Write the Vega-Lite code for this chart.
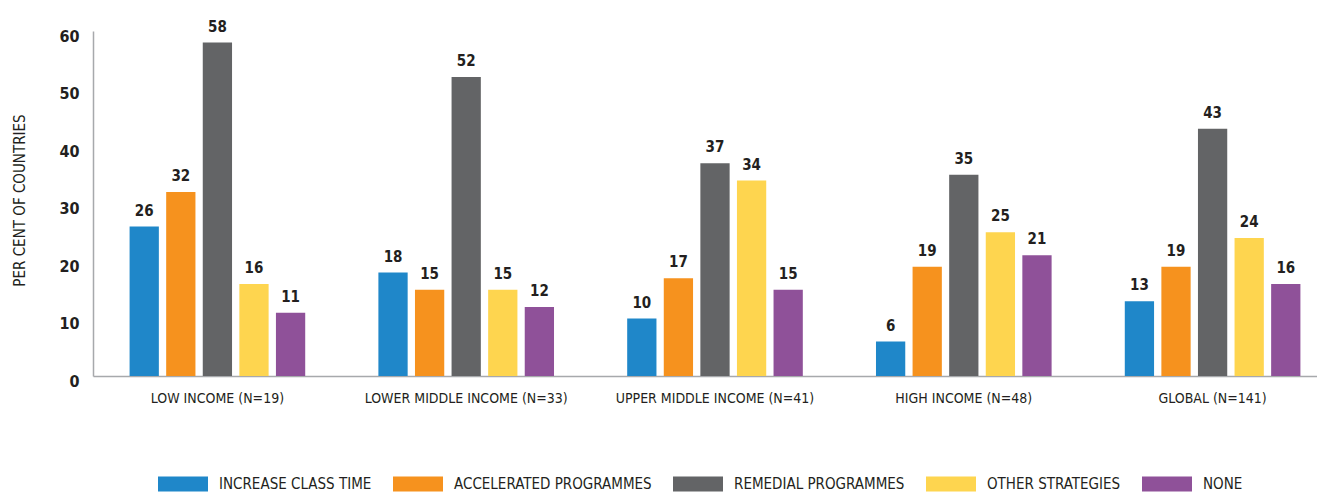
{
  "$schema": "https://vega.github.io/schema/vega-lite/v6.json",
  "width": 1224,
  "height": 345,
  "autosize": "none",
  "padding": {"left": 93, "top": 31, "right": 0, "bottom": 116},
  "background": "white",
  "config": {
    "view": {"stroke": null},
    "font": "DejaVu Sans Condensed"
  },
  "data": {
    "values": [
      {"group": "LOW INCOME (N=19)", "strategy": "INCREASE CLASS TIME", "value": 26},
      {"group": "LOW INCOME (N=19)", "strategy": "ACCELERATED PROGRAMMES", "value": 32},
      {"group": "LOW INCOME (N=19)", "strategy": "REMEDIAL PROGRAMMES", "value": 58},
      {"group": "LOW INCOME (N=19)", "strategy": "OTHER STRATEGIES", "value": 16},
      {"group": "LOW INCOME (N=19)", "strategy": "NONE", "value": 11},
      {"group": "LOWER MIDDLE INCOME (N=33)", "strategy": "INCREASE CLASS TIME", "value": 18},
      {"group": "LOWER MIDDLE INCOME (N=33)", "strategy": "ACCELERATED PROGRAMMES", "value": 15},
      {"group": "LOWER MIDDLE INCOME (N=33)", "strategy": "REMEDIAL PROGRAMMES", "value": 52},
      {"group": "LOWER MIDDLE INCOME (N=33)", "strategy": "OTHER STRATEGIES", "value": 15},
      {"group": "LOWER MIDDLE INCOME (N=33)", "strategy": "NONE", "value": 12},
      {"group": "UPPER MIDDLE INCOME (N=41)", "strategy": "INCREASE CLASS TIME", "value": 10},
      {"group": "UPPER MIDDLE INCOME (N=41)", "strategy": "ACCELERATED PROGRAMMES", "value": 17},
      {"group": "UPPER MIDDLE INCOME (N=41)", "strategy": "REMEDIAL PROGRAMMES", "value": 37},
      {"group": "UPPER MIDDLE INCOME (N=41)", "strategy": "OTHER STRATEGIES", "value": 34},
      {"group": "UPPER MIDDLE INCOME (N=41)", "strategy": "NONE", "value": 15},
      {"group": "HIGH INCOME (N=48)", "strategy": "INCREASE CLASS TIME", "value": 6},
      {"group": "HIGH INCOME (N=48)", "strategy": "ACCELERATED PROGRAMMES", "value": 19},
      {"group": "HIGH INCOME (N=48)", "strategy": "REMEDIAL PROGRAMMES", "value": 35},
      {"group": "HIGH INCOME (N=48)", "strategy": "OTHER STRATEGIES", "value": 25},
      {"group": "HIGH INCOME (N=48)", "strategy": "NONE", "value": 21},
      {"group": "GLOBAL (N=141)", "strategy": "INCREASE CLASS TIME", "value": 13},
      {"group": "GLOBAL (N=141)", "strategy": "ACCELERATED PROGRAMMES", "value": 19},
      {"group": "GLOBAL (N=141)", "strategy": "REMEDIAL PROGRAMMES", "value": 43},
      {"group": "GLOBAL (N=141)", "strategy": "OTHER STRATEGIES", "value": 24},
      {"group": "GLOBAL (N=141)", "strategy": "NONE", "value": 16}
    ]
  },
  "encoding": {
    "x": {
      "field": "group", "type": "nominal", "sort": null,
      "scale": {"paddingInner": 0, "paddingOuter": 0, "range": [0, 1244]},
      "axis": {
        "title": null, "labelAngle": 0, "ticks": false,
        "domainColor": "#a7a9ac", "domainWidth": 1.5,
        "labelFont": "DejaVu Sans Condensed", "labelFontSize": 14,
        "labelColor": "#231f20", "labelPadding": 15, "labelLimit": 400
      }
    },
    "xOffset": {
      "field": "strategy", "type": "nominal", "sort": null,
      "scale": {"paddingInner": 0.2, "paddingOuter": 1.15}
    },
    "y": {
      "field": "value", "type": "quantitative",
      "scale": {"domain": [0, 60]},
      "axis": {
        "title": "PER CENT OF COUNTRIES", "values": [0, 10, 20, 30, 40, 50, 60],
        "grid": false, "ticks": false,
        "domainColor": "#a7a9ac", "domainWidth": 1.5,
        "labelFont": "DejaVu Sans Condensed", "labelFontSize": 16, "labelFontWeight": "bold",
        "labelColor": "#231f20", "labelPadding": 14, "labelOffset": 5,
        "titleFont": "DejaVu Sans Condensed", "titleFontSize": 15, "titleFontWeight": "normal",
        "titleColor": "#231f20", "titleX": -66, "titleY": 169, "titleAngle": -90
      }
    }
  },
  "layer": [
    {
      "mark": {"type": "bar"},
      "encoding": {
        "color": {
          "field": "strategy", "type": "nominal", "sort": null,
          "scale": {
            "domain": ["INCREASE CLASS TIME", "ACCELERATED PROGRAMMES", "REMEDIAL PROGRAMMES", "OTHER STRATEGIES", "NONE"],
            "range": ["#1f87c9", "#f6921e", "#636466", "#fed54f", "#8f5199"]
          },
          "legend": {
            "title": null, "orient": "none", "direction": "horizontal",
            "legendX": 65, "legendY": 428,
            "symbolType": "M-1,-0.3h2v0.6h-2z", "symbolSize": 2500,
            "symbolStrokeWidth": 0,
            "labelFont": "DejaVu Sans Condensed", "labelFontSize": 15,
            "labelColor": "#231f20", "labelOffset": 11, "columnPadding": 21,
            "labelLimit": 400
          }
        }
      }
    },
    {
      "mark": {
        "type": "text", "baseline": "bottom", "dy": -8,
        "font": "DejaVu Sans Condensed", "fontSize": 15, "fontWeight": "bold",
        "color": "#231f20"
      },
      "encoding": {
        "text": {"field": "value", "type": "quantitative"}
      }
    }
  ]
}
